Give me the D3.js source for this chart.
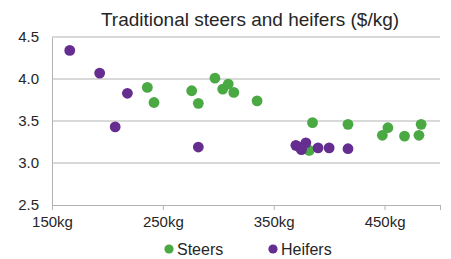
<!DOCTYPE html>
<html>
<head>
<meta charset="utf-8">
<script src="https://cdn.jsdelivr.net/npm/d3@7"></script>
<style>
  body { margin: 0; background: #fff; }
  text { font-family: "Liberation Sans", Arial, sans-serif; fill: #262626; }
</style>
</head>
<body>
<svg width="451" height="259"></svg>
<script>
// Steers ($/kg by weight)
var steerWeight = [236, 242, 276, 282, 297, 304, 309, 314, 335, 385, 382, 417, 448, 453, 468, 481, 483];
var steerPrice  = [3.90, 3.72, 3.86, 3.71, 4.01, 3.88, 3.94, 3.84, 3.74, 3.48, 3.15, 3.46, 3.33, 3.42, 3.32, 3.33, 3.46];

// Heifers
var heiferWeight = [166, 193, 218, 207, 282, 370, 375, 379, 373, 390, 400, 417];
var heiferPrice  = [4.34, 4.07, 3.83, 3.43, 3.19, 3.21, 3.16, 3.24, 3.19, 3.18, 3.18, 3.17];

var xTicks = [150, 250, 350, 450];
var yTicks = [2.5, 3.0, 3.5, 4.0, 4.5];

var svg = d3.select("svg");

var margin = {left: 52, right: 11, top: 37, bottom: 54};
var width = 451 - margin.left - margin.right,
    height = 259 - margin.top - margin.bottom;

var x = d3.scaleLinear().domain([150, 500]).range([margin.left, margin.left + width]);
var y = d3.scaleLinear().domain([2.5, 4.5]).range([margin.top + height, margin.top]);

// title
svg.append("text")
    .attr("x", 250)
    .attr("y", 26)
    .attr("text-anchor", "middle")
    .style("font-size", "19px")
    .text("Traditional steers and heifers ($/kg)");

// gridlines
svg.append("g")
    .selectAll("line")
    .data(yTicks.slice(1))
    .enter().append("line")
    .attr("x1", x(150))
    .attr("x2", x(500))
    .attr("y1", d => y(d))
    .attr("y2", d => y(d))
    .attr("stroke", "#b3b3b3")
    .attr("stroke-width", 1);

// y axis
var yAxis = svg.append("g")
    .attr("transform", "translate(" + x(150) + ",0)")
    .call(d3.axisLeft(y).tickValues(yTicks).tickFormat(d3.format(".1f")).tickSize(0).tickPadding(13));
yAxis.select(".domain").attr("stroke", "#b3b3b3");
yAxis.selectAll("text").style("font-size", "15px").attr("fill", "#262626");

// x axis
var xAxis = svg.append("g")
    .attr("transform", "translate(0," + y(2.5) + ")")
    .call(d3.axisBottom(x).tickValues(xTicks.concat([500])).tickFormat(d => d === 500 ? "" : d + "kg").tickSizeInner(5).tickSizeOuter(0).tickPadding(6));
xAxis.select(".domain").attr("stroke", "#b3b3b3");
xAxis.selectAll(".tick line").attr("stroke", "#b3b3b3");
xAxis.selectAll("text").style("font-size", "15px").attr("fill", "#262626");

// points
var green = "#4aa943", purple = "#652d90";

svg.append("g")
    .selectAll("circle")
    .data(steerWeight)
    .enter().append("circle")
    .attr("cx", d => x(d))
    .attr("cy", (d, i) => y(steerPrice[i]))
    .attr("r", 5.4)
    .attr("fill", green);

svg.append("g")
    .selectAll("circle")
    .data(heiferWeight)
    .enter().append("circle")
    .attr("cx", d => x(d))
    .attr("cy", (d, i) => y(heiferPrice[i]))
    .attr("r", 5.4)
    .attr("fill", purple);

// legend
var legend = [{name: "Steers", color: green, x: 169}, {name: "Heifers", color: purple, x: 273}];
var lg = svg.append("g").selectAll("g").data(legend).enter().append("g");
lg.append("circle")
    .attr("cx", d => d.x)
    .attr("cy", 249)
    .attr("r", 4.6)
    .attr("fill", d => d.color);
lg.append("text")
    .attr("x", d => d.x + 8)
    .attr("y", 255)
    .style("font-size", "16px")
    .text(d => d.name);
</script>
</body>
</html>
